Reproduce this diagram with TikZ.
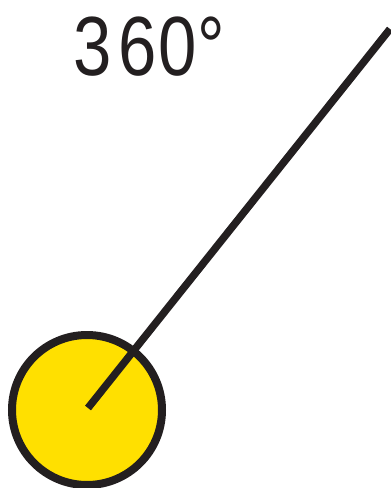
\documentclass[tikz,border=0pt]{standalone}
\usepackage{fontspec}
\setmainfont{Liberation Sans}
\definecolor{ink}{HTML}{231F20}
\definecolor{sun}{HTML}{FFE000}
\begin{document}
\begin{tikzpicture}[x=1pt,y=-1pt,
  ring/.style={draw=ink,line width=8pt,fill=sun},
  ray/.style={draw=ink,line width=7.5pt},
  lbl/.style={text=ink,font=\fontsize{84}{84}\selectfont,inner sep=0pt,xscale=0.82,transform shape}]
\useasboundingbox (0,0) rectangle (391,488);
\begin{scope}
\clip (0,0) rectangle (391,488);
\node[circle,ring,minimum size=150pt,inner sep=0pt] (ball) at (87,410) {};
\coordinate (c) at (88,408);
\coordinate (tip) at (390,29);
\draw[ray] (c) -- (tip);
\end{scope}
\node[lbl,anchor=base] (t) at (149,75) {3\kern8pt6\kern3pt0°};
\end{tikzpicture}
\end{document}
